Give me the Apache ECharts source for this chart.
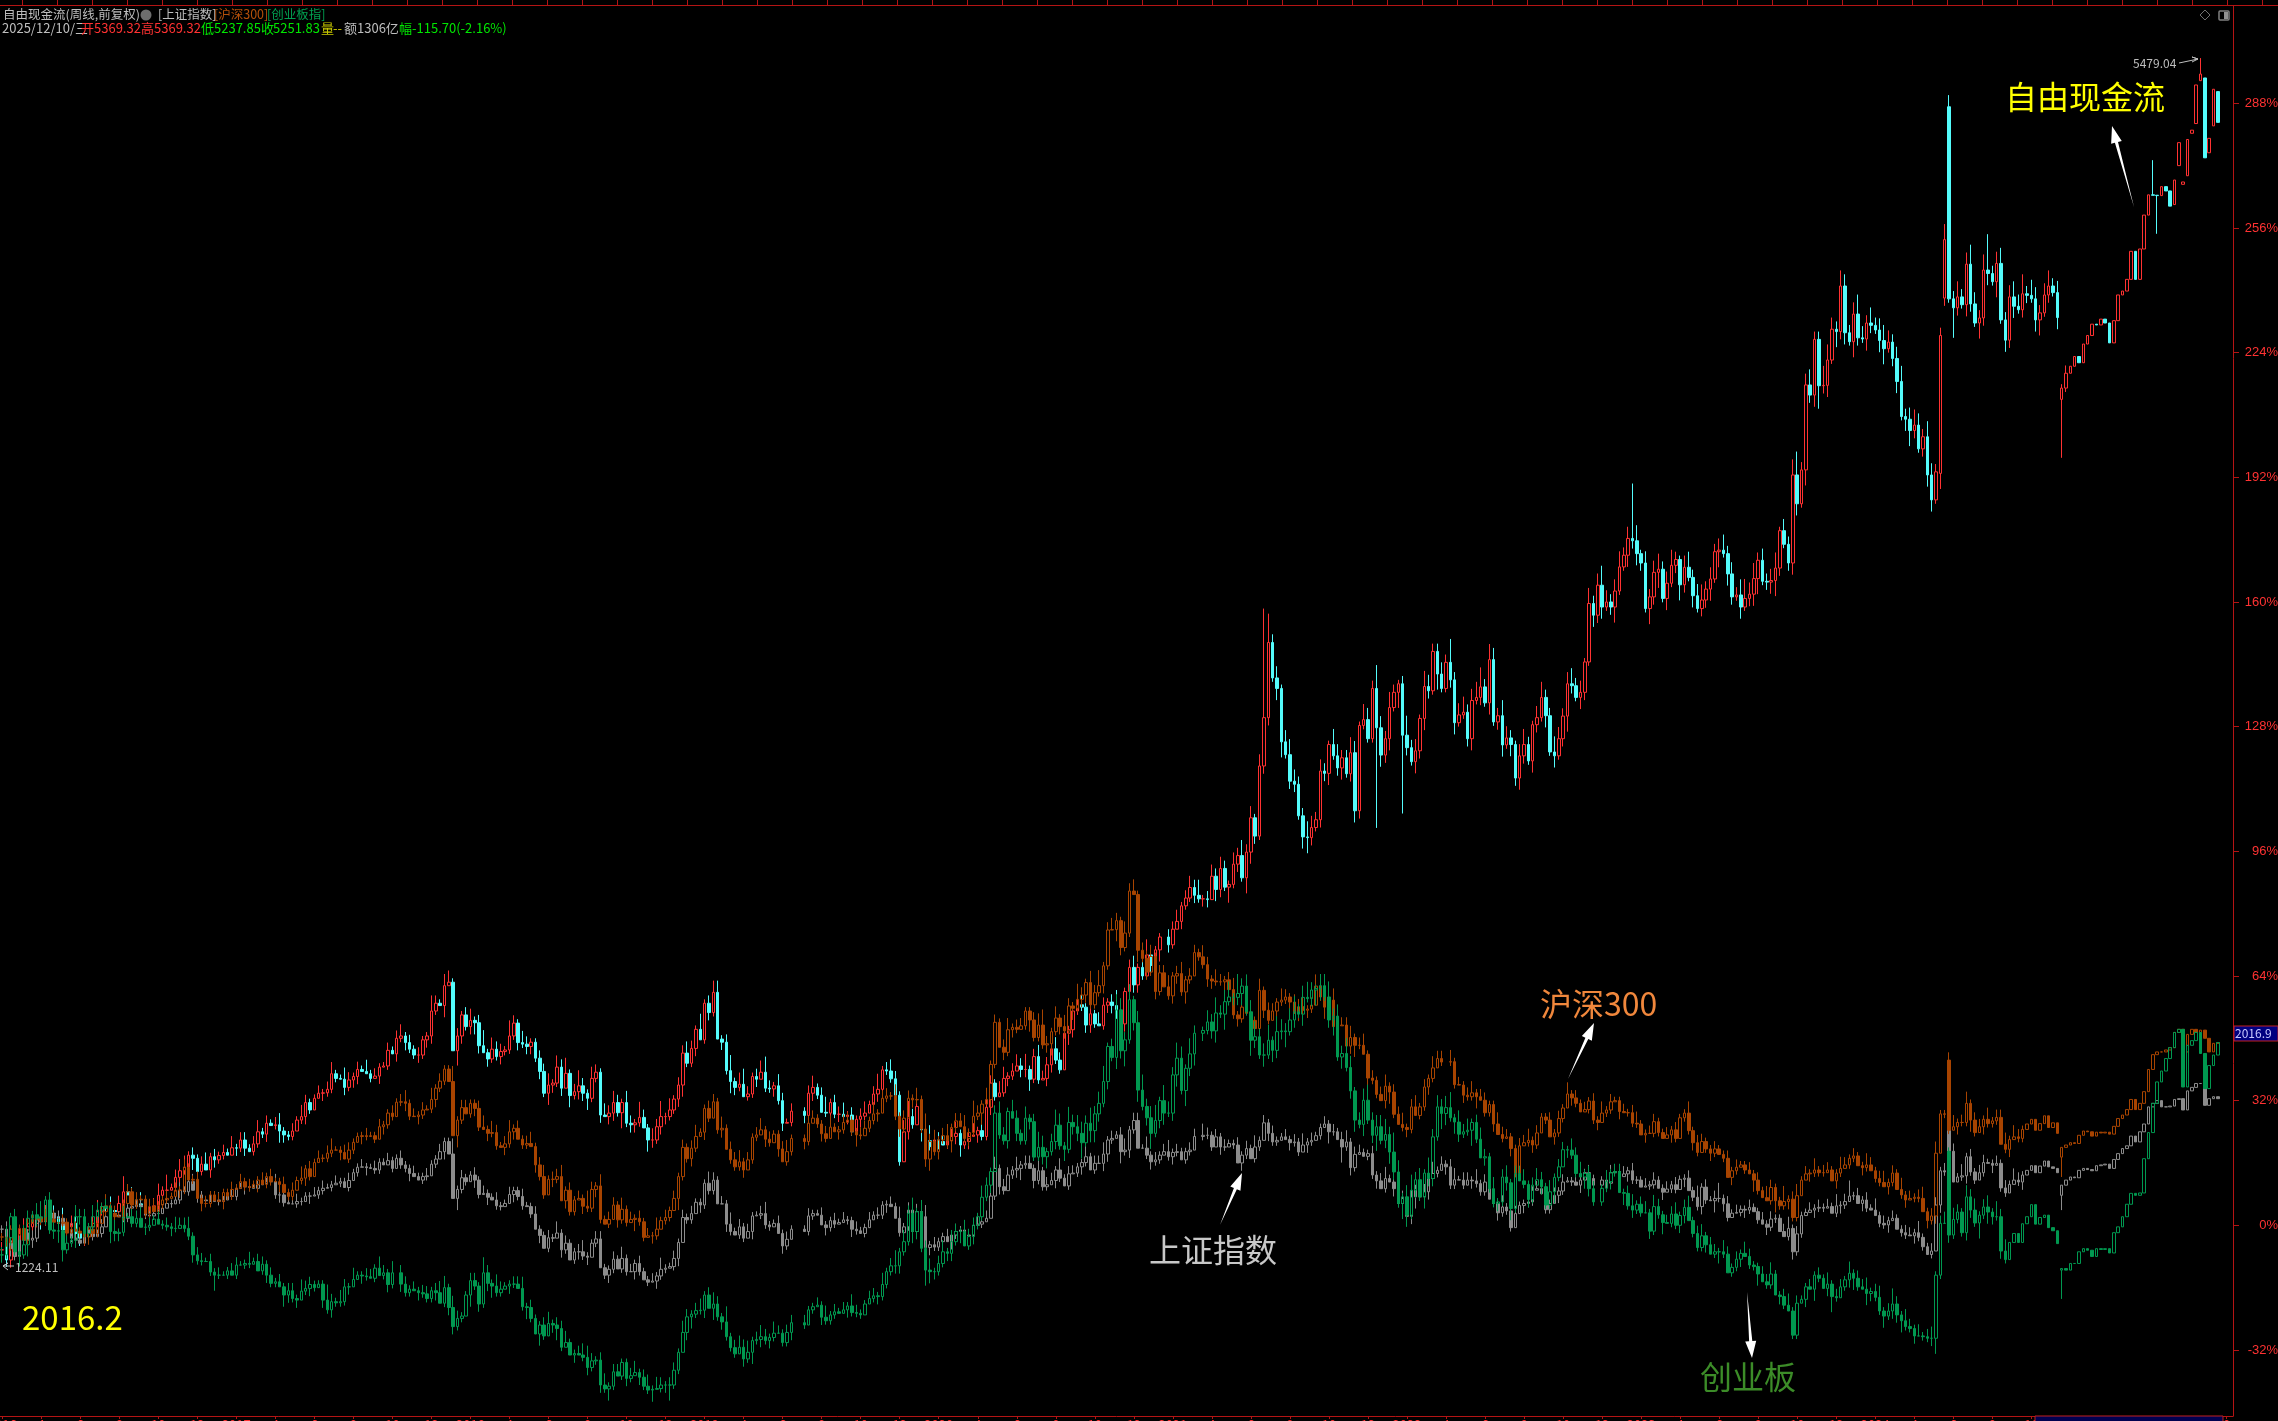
<!DOCTYPE html>
<html><head><meta charset="utf-8">
<style>html,body{margin:0;padding:0;background:#000}#c{width:2278px;height:1421px}</style>
<script src="https://cdn.jsdelivr.net/npm/echarts@6/dist/echarts.min.js"></script></head>
<body><div id="c"></div>
<script>
// percent change from the first week, weekly closes, in runs
const barCount=515;
const yTicks=[-32,0,32,64,96,128,160,192,224,256,288];
const monthLabels=['2016','4','6','8','10','12','2017','4','6','8','10','12','2018','4','6','8','10','12','2019','4','6','8','10','12','2020','4','6','8','10','12','2021','4','6','8','10','12','2022','4','6','8','10','12','2023','4','6','8','10','12','2024','4','6','8','10','12','2025','4','6','8','10'];

const fcfStarts=[0,92,185,269,274,369];
const fcfA=[-6.3,-8.9,-5.1,-4.6,-2.1,-1.2,-0.4,0.5,1.8,0.9,2.2,3.1,2.2,0.5,-1.2,-0.4,0.5,-2.1,-3.3,-2.9,-0.4,0.5,3.5,4.8,4.4,3.8,3.5,5.6,8.6,7.8,6.5,5.5,4.8,4.0,4.0,5.0,7.7,9.0,9.0,9.7,12.3,14.0,14.9,18.0,17.2,13.8,15.7,14.2,17.6,16.8,17.9,18.7,18.0,19.9,19.8,21.9,19.8,18.9,20.9,24.0,23.4,26.2,25.6,25.8,24.2,23.2,22.8,24.2,27.0,27.9,31.5,29.6,32.6,33.9,34.0,34.9,38.9,37.7,37.5,35.4,37.3,38.2,40.0,39.5,38.9,37.7,38.3,40.6,40.9,44.9,44.0,48.0];
const fcfB=[48.6,46.9,45.2,43.7,43.7,47.6,48.6,55.0,57.0,56.4,61.5,62.4,44.8,48.6,54.0,51.0,52.6,52.0,46.1,44.3,42.7,45.2,43.3,44.6,45.0,48.6,51.9,46.9,46.5,45.9,47.0,42.9,39.5,33.9,36.0,36.5,40.6,35.2,39.0,33.3,34.3,35.8,33.9,32.6,37.7,39.3,28.3,27.9,28.8,31.5,28.9,31.5,26.2,25.8,26.3,27.7,25.0,21.9,21.9,25.3,27.9,27.9,29.6,32.4,36.0,44.2,41.6,45.4,50.3,47.6,57.0,54.6,59.8,47.8,47.0,39.7,36.9,35.4,36.2,33.0,33.7,38.2,37.5,39.3,35.2,35.0,35.8,32.0,26.2,26.4,29.3];
const fcfC=[28.2,33.9,35.4,33.4,29.0,28.8,31.5,28.5,28.5,27.9,28.3,24.0,27.2,28.0,28.8,31.0,33.7,34.9,39.9,39.6,37.6,33.4,16.3,24.0,27.9,25.8,30.5,24.5,21.7,20.2,21.9,21.5,20.6,21.7,22.8,23.6,20.6,21.5,22.8,23.2,24.3,22.8,30.3,36.5,33.0,34.0,37.7,38.3,39.6,40.9,40.0,40.0,37.5,43.3,37.3,37.7,41.2,45.3,42.4,39.9,49.3,50.2,55.0,56.6,56.0,51.4,54.3,51.7,51.2,56.5,57.3,56.4,54.0,51.7,60.0,66.2,61.7,66.2,64.0,69.4,66.7,70.7,74.0];
const fcfC2=[72.0,76.0,78.0,82.0,84.0];
const fcfD=[86.7,84.7,83.8,83.8,83.6,89.6,86.2,91.6,86.8,87.5,92.7,94.9,89.2,95.8,104.6,99.9,117.9,130.3,149.6,140.5,137.8,124.1,120.8,114.0,113.2,105.1,99.7,99.5,102.1,104.1,116.6,116.0,123.4,120.5,117.4,120.0,115.9,121.3,106.4,128.3,129.8,124.9,137.8,127.7,120.7,124.9,132.9,136.8,139.0,125.8,122.6,119.0,121.8,130.1,138.3,137.2,147.3,141.5,137.8,144.5,140.0,129.0,131.0,131.7,124.9,134.7,135.5,138.2,134.1,145.2,129.2,130.8,123.3,125.1,123.4,114.8,120.5,123.4,119.2,128.5,130.3,135.5,130.8,121.5,120.5,124.9,130.7,139.0,138.5,135.5,136.8,144.6,159.6,156.6,164.3];
const fcfE=[158.7,160.0,158.7,162.8,169.0,172.0,176.3,175.7,172.4,170.0,158.3,161.3,167.6,168.4,160.9,164.8,169.4,170.9,164.4,168.9,166.3,161.6,158.3,160.5,163.3,165.9,172.9,173.3,172.4,167.2,161.3,161.8,158.7,160.9,162.0,166.0,170.7,165.3,165.1,165.5,168.7,178.3,174.8,170.0,192.6,185.2,193.9,215.7,213.1,227.4,215.5,215.6,222.1,230.0,229.4,241.1,229.1,226.8,233.9,227.8,227.5,231.6,231.0,229.8,227.1,225.0,226.7,222.5,216.6,207.6,206.9,204.0,205.4,199.3,202.4,192.6,186.2,193.4,228.4,253.0,237.8,235.5,238.3,236.3,246.7,236.5,231.6,232.9,245.2,244.3,242.2,246.9,232.4,227.2,238.3,235.9,235.0,239.1,238.7,237.8,232.4,234.2,238.8,241.1,239.4,233.0,214.9,218.7,220.5,223.0,221.4,226.2,228.4,231.3,231.1,232.6,231.6,226.5,232.2,238.8,239.8,242.8,250.0,242.8,250.6,259.3,264.5,264.4,264.3,266.6,265.5,261.6,268.3,277.9,267.8,278.7,281.1,292.7,295.5,274.0,279.0,291.6,283.1];
const fcfOpenAt={449:287.1,448:238,447:193,475:212,501:262,502:272,503:267.2,504:269.4,505:280.3,506:282.8,507:293.8,508:294.5,509:275.3,510:282.2,511:291};
const fcfHighAt={104:63.4,291:158.3,292:157,293:151.7,376:190.4,414:198.6,416:218.6,458:254.4,496:273.4,507:299.6};
const fcfLowAt={1:-10.7,105:41,317:102,323:105.7,419:209.6,450:227.8,475:197,497:254.5};
const fcfWick=[21,11,12,21,22,31,20,33,11,22,31,30,21,12,41,11,22,31,12,22,10,21,31,11,22,30,12,21,41,10,22,11,30,12,21,20,31,11,42,10,21,32,31,12,23,11,21,30,12,22,11,21,10,30,12,21,22,10,21,31,11,22,10,21,33,12,11,21,10,31,22,11,10,20,12,21,31,11,10,32,21,12,22,10,30,11,20,12,10,21,10,22,
31,12,21,11,22,11,12,42,21,10,33,30,60,22,12,21,32,13,22,40,12,31,21,22,11,41,21,12,31,22,12,11,22,21,33,12,31,22,40,13,21,42,22,13,31,21,12,30,22,32,21,14,31,22,12,41,20,13,32,21,42,12,31,11,22,23,31,21,12,40,11,22,31,30,12,21,43,12,31,40,21,11,22,30,41,21,12,31,22,10,21,23,31,12,
21,32,11,20,41,11,21,22,30,12,21,11,22,31,10,21,42,12,21,31,22,11,30,42,21,10,23,31,41,12,22,30,11,21,32,13,21,22,30,12,21,41,22,11,30,31,12,21,30,22,42,13,21,31,20,22,12,31,21,30,13,22,41,31,12,22,11,30,21,12,22,41,30,12,21,32,12,21,40,22,11,13,31,22,21,30,12,21,31,22,41,12,22,30,
23,32,21,14,31,22,41,24,33,12,31,22,42,21,33,14,31,42,32,21,23,44,32,21,32,22,13,41,32,23,21,42,33,12,41,31,21,62,33,22,43,21,14,23,52,21,33,12,43,32,21,24,31,21,62,23,31,41,22,33,41,52,21,43,31,22,43,31,23,12,33,42,21,13,32,41,23,21,43,31,22,34,42,21,33,12,41,23,32,53,31,22,34,41,
21,33,22,43,12,31,24,32,44,21,33,41,22,14,32,41,23,31,42,22,33,21,34,41,23,32,21,43,51,32,43,24,31,22,33,44,12,31,22,43,33,21,34,42,23,21,52,43,31,24,42,33,21,34,52,31,23,42,21,33,44,31,22,33,41,23,34,42,31,22,43,33,21,24,42,31,23,42,21,33,52,31,24,42,33,21,34,41,23,32,43,31,52,22,41,33,24,31,42,21,33,11,21];

const shStarts=[0,92,185,277,369,449];
const shA=[-1.0,-4.0,-6.0,-8.0,-3.8,-2.0,-3.8,-3.3,1.4,1.0,2.2,3.0,1.8,1.8,0,-1.6,-3.3,-3.8,-4.6,-1.2,-2.1,-2.9,-2.1,-0.4,2.2,3.0,2.6,2.2,1.8,4.4,4.8,5.2,4.8,2.6,2.4,3.0,3.0,4.4,5.6,5.5,6.5,9.0,8.6,11.2,9.0,7.8,6.5,6.3,6.1,6.5,6.1,6.5,7.5,7.4,9.5,9.9,9.9,9.7,9.5,10.4,10.8,11.2,11.2,7.8,7.8,5.8,5.5,5.5,6.1,6.1,7.5,7.5,7.8,8.9,9.5,9.7,10.4,10.8,11.2,9.7,11.5,13.5,14.9,15.0,14.8,14.6,14.2,16.2,15.5,16.6,14.6,17.2];
const shB=[15.5,14.6,13.3,12.5,11.6,12.5,12.7,15.7,17.0,18.9,21.5,18.3,6.9,9.2,12.2,11.2,12.9,11.6,7.9,8.2,7.2,6.5,5.0,4.8,5.6,7.9,8.9,7.4,5.0,4.8,2.9,-1.0,-2.6,-5.9,-3.2,-3.3,-2.0,-6.3,-4.6,-8.9,-6.8,-6.8,-7.9,-8.2,-4.6,-3.5,-10.9,-12.8,-11.3,-8.7,-11.2,-8.5,-11.9,-11.9,-9.8,-11.9,-14.0,-14.6,-14.3,-13.0,-11.3,-11.0,-10.6,-8.5,-4.4,2.0,1.4,3.0,5.9,5.2,10.8,8.9,11.6,5.5,5.5,0.3,-1.6,-2.5,-0.4,-3.3,-1.6,2.4,2.6,3.0,0.1,-0.4,0.5,-2.1,-5.3,-3.6,-1.0];
const shC=[-1.6,2.4,3.0,2.6,0.1,-0.6,1.2,0.3,0.7,1.4,1.2,-1.0,-1.4,-2.1,-0.6,1.4,2.6,2.6,5.2,5.4,4.8,1.8,-1.9,-0.4,3.9,-1.6,3.5,2.2,-5.7,-5.0,-5.6,-4.2,-2.9,-4.2,-2.5,-1.6,-1.2,-2.7,-2.5,0,0.3,0.9,1.8,7.5,14.6,9.9,8.9,12.9,14.2,14.6,15.5,15.9,14.6,11.5,14.0,9.9,10.4,11.5,14.2,12.1,10.1,13.2,13.4,15.0,16.1,17.6,14.2,15.9,15.9,18.3,21.9,22.3,23.2,18.9,19.3,24.5,26.9,19.8,19.8,18.0,16.3,16.8,18.0,18.9,17.6,18.7,18.9,16.8,18.9,19.3,22.8];
const shD=[23.1,23.1,20.1,22.7,20.1,20.1,21.0,20.6,16.0,18.0,19.7,17.1,20.1,21.8,26.3,23.6,21.4,21.8,22.7,22.0,21.2,21.4,18.8,20.6,21.4,21.8,23.0,25.1,26.0,24.0,24.0,22.0,20.1,21.4,14.8,18.2,18.7,17.7,18.4,12.9,11.4,9.4,12.0,11.1,9.4,5.6,6.9,2.3,7.3,9.4,7.3,8.6,12.0,13.3,14.1,15.7,15.0,10.3,11.7,11.6,10.3,11.6,11.4,10.7,8.6,11.1,6.7,5.6,3.2,4.7,3.7,-0.6,3.0,5.1,5.6,6.0,9.0,9.4,8.1,4.0,5.6,7.7,8.8,11.1,11.4,11.1,10.3,11.6,13.5,12.0,10.3];
const shE=[11.6,10.8,13.5,13.8,12.5,13.2,14.0,11.6,11.6,9.8,10.1,10.4,11.6,9.5,8.5,9.3,10.4,9.2,11.8,12.1,8.9,7.2,4.8,9.8,6.5,6.3,6.9,6.9,5.5,2.0,3.1,3.3,4.1,3.9,4.6,3.5,1.4,0.3,-0.5,1.6,1.8,-1.6,-2.9,-0.8,-6.8,-2.2,2.5,3.3,3.9,4.4,4.6,4.4,4.8,3.1,5.0,5.2,6.1,7.5,7.6,5.6,6.5,4.4,3.9,2.5,0.5,0.1,1.2,1.8,-1.0,-1.9,-2.5,-2.7,-1.9,-3.1,-5.5,-7.5,-6.6,5.2,14.0,13.7];
const shF=[19.0,11.1,12.4,12.7,17.6,13.7,11.6,13.5,16.1,15.9,15.4,15.9,9.6,8.3,10.5,11.6,11.1,12.9,14.1,15.3,13.5,15.2,16.5,15.0,14.6,13.5,10.3,11.6,12.4,12.2,14.1,14.6,14.3,14.0,15.3,15.5,15.7,14.6,16.9,18.4,19.7,20.4,22.9,21.4,24.0,26.0,30.4,31.3,32.0,30.4,30.4,30.6,32.3,32.5,29.6,34.5,35.4,36.4,36.4,30.8,32.5,33.0,32.5];
const shOpenAt={449:24.4,475:7.7};
const shLowAt={475:3.9};
const shWick=[11,20,12,11,10,21,10,22,11,10,21,10,11,20,11,10,21,11,10,20,12,11,10,21,10,11,20,10,21,11,10,20,12,11,10,21,11,10,20,11,10,21,10,11,20,12,10,11,20,10,21,11,10,20,11,10,12,21,10,11,20,11,10,21,12,11,10,20,21,11,10,12,20,11,21,10,11,20,11,10,21,10,11,20,12,10,21,11,10,20,11,10,
21,11,12,20,10,11,21,10,11,20,12,10,40,13,21,11,10,22,11,20,12,10,21,11,10,20,12,11,21,10,11,20,12,10,21,11,30,12,21,10,11,22,31,12,10,21,20,11,12,21,10,31,11,20,12,21,10,11,20,12,31,11,10,21,12,20,11,21,10,12,11,31,21,10,20,12,31,10,21,11,20,12,10,21,31,11,10,20,12,21,10,11,
20,10,21,11,10,20,12,11,21,10,20,11,12,21,10,11,20,10,21,11,12,20,10,31,12,21,10,20,11,30,12,21,11,10,20,12,21,11,20,10,12,21,11,20,10,31,12,21,20,11,32,13,21,20,12,31,11,21,20,12,31,10,21,20,11,12,31,10,21,20,32,12,21,10,23,31,12,21,20,10,31,12,21,11,20,31,12,21,10,11,21,20,12,31,
21,11,20,12,21,10,11,20,12,21,10,31,11,20,12,21,11,10,20,12,21,11,30,12,21,10,11,20,13,21,10,24,31,12,21,20,10,11,21,12,20,31,10,12,21,20,11,32,13,21,20,12,31,11,20,12,21,31,10,21,20,12,31,11,21,10,20,12,31,11,21,20,10,12,21,11,20,10,21,11,20,12,21,10,11,20,12,11,21,10,20,11,12,21,
10,11,20,12,21,11,10,20,11,21,10,12,20,11,21,10,12,20,11,31,12,21,10,23,41,12,21,10,20,11,12,21,10,11,20,12,21,11,10,20,31,12,21,11,10,20,12,21,11,20,10,31,12,21,40,11,20,12,21,10,30,11,21,12,20,10,11,21,20,12,31,11,10,21,20,12,21,11,20,10,31,12,21,11,20,21,10,12,20,11,21,10,30,21,12];

const hsStarts=[0,92,185,254,334,369,449];
const hsA=[-3.0,-4.5,-1.0,-2.5,-0.8,-3.8,0.5,1.5,2.0,1.0,2.2,1.5,0.8,0.5,0.8,-2.0,-1.0,-1.5,-2.0,-3.0,-1.0,-2.1,0.5,3.5,5.0,3.0,2.2,2.2,5.6,8.6,5.2,6.5,6.7,3.0,4.8,3.5,5.2,6.5,6.9,7.4,9.0,9.0,14.9,11.6,11.8,6.9,5.6,5.6,7.8,6.3,6.1,8.4,7.5,9.2,9.5,11.2,9.9,9.7,10.5,11.6,10.5,12.5,11.2,11.2,10.5,8.4,7.4,9.0,11.5,12.1,14.5,12.5,16.1,17.2,17.2,18.5,19.3,19.3,18.7,17.0,19.3,21.3,22.8,23.0,22.8,23.0,22.1,25.3,25.8,28.8,27.9,31.6];
const hsB=[31.7,31.3,28.0,27.9,28.3,29.6,29.8,32.3,35.2,37.0,40.1,36.9,23.0,27.0,30.2,28.6,31.3,30.0,25.2,24.6,23.6,23.8,20.4,20.0,20.9,24.0,24.9,22.1,20.6,21.0,20.2,15.5,12.5,7.8,11.8,11.8,12.5,6.3,9.0,3.5,6.5,6.9,4.9,4.4,9.2,10.1,1.5,0.3,1.5,5.2,1.4,4.1,0.7,1.5,1.8,0.9,-3.1,-2.7,-2.7,-1.0,1.2,2.0,3.8,6.9,12.5,20.0,17.1,19.8,22.8,23.9,30.0,27.5,31.7,24.5,24.9,19.5,16.8,15.0,16.3,14.2,16.8,22.6,23.2,24.5,22.1,21.2,23.4,19.6,16.3,18.9,22.3];
const hsC=[21.5,26.2,27.5,26.0,23.5,22.3,25.2,24.0,24.5,26.4,27.0,24.0,23.2,23.0,24.9,26.9,28.6,28.8,32.6,33.2,33.2,28.0,24.7,27.5,32.6,32.2,32.3,24.7,17.0,21.5,18.9,21.9,23.0,21.7,25.1,26.8,25.3,22.3,23.8,28.0,28.8,31.1,32.3,41.3,52.1,45.7,44.4,50.2,50.8,50.3,51.2,55.0,52.7,48.2,51.4,46.3,46.6,49.7,53.2,51.0,49.9,56.3,55.7,58.0,59.1,62.3,56.6,59.7,61.5];
const hsD=[66.6,75.8,75.9,78.2,71.3,75.0,85.8,84.9,70.6,68.5,65.0,69.0,60.0,64.8,61.2,58.9,64.0,64.6,59.9,63.0,64.0,70.0,68.9,66.9,63.2,62.7,62.5,62.5,63.0,60.5,54.0,53.0,56.0,54.4,52.6,50.5,60.3,55.2,52.6,55.0,57.3,57.8,58.6,57.3,54.4,56.1,55.2,55.5,56.5,61.4,58.6,56.0,57.8,51.0,51.2,51.4,46.0,48.2,46.2,46.2,43.9,37.8,37.2,33.6,32.0,35.7,34.2,28.5,25.9,25.1,24.6,30.4,28.2,30.4,35.5,37.7,40.4,42.8,41.9];
const hsE=[42.0,36.1,36.0,33.4,33.0,34.0,33.0,32.1,28.9,31.0,26.0,23.3,22.3,22.7,19.7,13.3,20.4,21.2,21.8,20.6,23.7,27.8,27.0,22.7,23.7,27.4,30.1,33.7,32.7,31.3,29.1,29.7,31.9,27.0,26.4];
const hsF=[28.8,29.6,31.7,32.0,29.2,28.9,28.9,26.2,26.0,23.2,23.6,23.6,26.6,23.8,22.3,23.2,24.5,22.3,27.6,28.8,24.3,21.2,18.7,21.5,19.6,18.5,19.6,18.2,17.2,12.3,14.0,14.9,15.5,14.2,13.2,11.6,8.9,7.1,6.3,9.7,6.3,5.0,6.1,6.7,2.0,7.6,11.6,13.2,13.4,14.2,13.5,13.5,14.2,11.4,13.4,14.6,15.5,17.2,17.8,15.3,14.8,15.5,14.0,12.0,11.0,9.9,11.0,13.4,9.2,7.8,6.5,6.9,7.2,6.9,3.5,1.2,2.4,18.5,28.6,28.5];
const hsG=[24.4,25.3,26.4,26.4,31.3,27.0,23.8,25.3,27.2,26.1,26.8,27.7,20.8,19.5,22.0,22.7,22.3,24.6,26.0,27.2,24.4,26.1,28.1,25.1,26.3,23.6,20.0,20.6,21.2,21.0,23.1,24.2,24.0,22.9,23.9,23.7,23.9,23.4,25.4,27.4,28.3,29.7,32.3,29.7,31.3,34.3,40.0,43.8,44.5,44.5,45.0,45.6,49.5,50.3,44.5,49.0,50.3,49.5,50.1,48.0,44.5,46.7,46.9];
const hsOpenAt={449:42.4,475:17.5};
const hsLowAt={475:12.4};
const hsWick=[11,21,12,22,10,11,21,20,12,11,21,10,20,11,21,12,10,20,11,22,12,21,11,20,31,12,21,10,11,20,12,21,10,11,22,20,12,11,21,10,20,12,21,10,11,20,12,21,11,10,20,12,11,21,10,20,11,21,10,12,20,11,21,10,12,20,11,21,10,31,12,21,10,20,11,21,31,10,12,20,21,11,10,12,21,10,11,20,12,11,21,10,
21,32,11,20,12,21,10,31,12,21,11,10,40,13,21,20,11,12,21,30,12,31,21,10,22,31,12,20,11,21,30,12,21,31,10,22,21,30,12,21,11,20,12,41,21,12,31,10,21,20,12,31,11,20,13,21,11,20,12,31,10,21,11,20,13,21,11,22,31,10,12,21,20,11,32,10,21,21,31,12,20,11,21,30,12,21,10,12,20,31,11,22,
31,12,21,20,11,12,21,30,10,12,21,20,11,13,21,20,11,31,12,20,21,11,31,12,21,20,12,31,11,42,23,31,12,21,32,13,21,20,31,12,41,21,13,30,12,21,10,22,31,12,21,20,11,13,21,31,41,22,13,31,12,32,21,13,41,22,12,31,21,41,12,21,30,23,12,31,21,30,13,21,22,31,12,21,20,31,12,22,31,13,21,20,11,31,
22,12,31,21,13,20,31,12,21,30,22,11,31,12,21,20,13,31,21,12,20,22,31,12,21,30,11,23,21,31,12,20,21,32,13,21,30,12,21,11,20,32,13,21,20,31,12,21,30,11,21,12,31,20,21,12,31,11,20,12,21,31,13,20,21,11,12,30,21,20,12,11,21,20,31,12,21,10,11,20,12,21,11,30,12,21,10,20,11,21,12,30,11,21,
10,12,20,11,21,31,10,12,20,21,11,10,20,12,21,10,11,31,12,21,20,11,12,21,10,11,20,12,21,10,11,20,13,21,10,30,21,13,11,41,12,21,31,10,20,12,31,11,21,20,10,12,31,20,11,21,10,12,31,20,11,21,30,12,21,10,31,12,20,11,21,30,12,21,32,10,11,21,30,12,21,31,13,21,20,12,31,11,21,20,31,12,30,21,11];

const cyStarts=[0,92,185,277,369,449];
const cyA=[-7.6,-3.2,2.2,-6.8,-7.6,-5.0,1.8,2.7,1.8,2.2,6.5,-1.2,-1.5,-1.4,-6.3,-4.6,-3.8,2.2,2.2,-2.1,-0.4,2.2,3.9,4.8,4.4,-1.6,-2.1,-1.8,2.0,2.2,0.5,1.8,-0.5,-0.5,0,1.6,0.3,0,-0.4,-0.8,-0.8,0,-0.8,-2.8,-7.6,-9.1,-9.3,-9.3,-12.0,-12.8,-12.8,-12.8,-11.7,-12.8,-10.2,-10.2,-9.8,-10.0,-9.3,-11.7,-10.0,-12.8,-14.9,-14.5,-15.8,-17.9,-16.8,-18.8,-19.2,-16.9,-16.2,-15.2,-16.0,-15.1,-19.2,-21.7,-19.6,-19.9,-19.6,-15.8,-15.8,-13.9,-12.8,-13.0,-13.2,-13.6,-11.0,-12.9,-12.2,-15.2,-12.2];
const cyB=[-15.1,-17.3,-16.4,-16.8,-17.3,-17.6,-18.8,-16.8,-17.3,-20.0,-16.0,-21.1,-26.0,-23.9,-23.3,-17.9,-14.2,-15.6,-20.2,-12.2,-14.9,-15.6,-17.3,-16.4,-15.6,-15.1,-15.1,-16.2,-20.9,-21.1,-23.9,-27.9,-25.6,-28.4,-25.2,-25.6,-26.5,-31.3,-30.1,-33.3,-32.9,-33.3,-33.9,-36.5,-34.8,-34.6,-41.0,-42.0,-41.3,-37.6,-38.7,-35.2,-39.3,-38.6,-37.8,-39.0,-41.3,-42.3,-42.1,-41.9,-41.0,-41.0,-41.0,-37.2,-32.6,-27.5,-23.5,-22.8,-21.9,-21.8,-17.9,-21.3,-20.2,-23.5,-24.8,-28.6,-31.4,-33.0,-31.3,-34.3,-32.6,-29.6,-29.3,-28.6,-29.6,-28.8,-27.7,-27.7,-30.1,-27.5,-25.0];
const cyC=[-25.6,-21.7,-20.9,-20.5,-23.6,-24.5,-23.0,-22.2,-22.6,-21.7,-20.7,-22.4,-22.6,-23.0,-20.2,-18.8,-18.1,-18.3,-15.2,-11.9,-10.4,-10.4,-6.8,-4.2,3.1,-1.6,3.5,-5.9,-11.5,-11.9,-11.9,-9.8,-6.8,-7.2,-4.2,-1.6,-1.6,-5.3,-2.9,0,2.2,7.2,10.3,13.8,28.8,23.2,21.7,29.2,27.5,23.6,21.7,27.5,26.6,17.5,20.0,17.6,18.9,21.5,25.7,20.4,19.5,26.4,25.3,23.6,21.2,26.2,24.3,28.6,31.3,36.9,45.9,43.1,55.3,44.8,47.6,57.9,52.0,34.7,30.5,27.6,23.6,26.9,32.0,28.8,28.8,38.6,42.9,34.6,40.3,44.0,49.3];
const cyD=[50.0,52.2,49.9,54.5,54.2,57.4,58.6,58.5,59.5,61.4,54.8,47.5,48.4,43.7,43.7,47.5,44.9,49.7,49.9,49.7,52.7,54.8,54.2,58.5,58.2,60.4,60.8,61.5,58.6,52.7,53.7,43.2,44.1,40.5,34.5,27.0,25.9,32.1,27.0,23.1,25.3,21.8,23.3,18.8,13.7,5.6,7.3,2.6,9.0,11.7,7.3,13.4,12.0,22.7,30.4,28.7,30.2,27.6,26.5,23.4,24.0,24.4,26.4,22.1,17.3,17.6,9.4,5.6,6.0,12.4,10.9,4.3,13.3,11.4,10.5,6.6,10.3,11.7,9.9,5.2,8.6,12.3,15.0,19.4,19.3,18.0,13.3,12.4,13.3,9.4,6.0];
const cyE=[9.5,11.2,13.5,13.8,8.4,8.2,5.0,3.9,5.4,3.2,3.2,-1.5,4.8,2.7,0.7,0.5,2.9,0,2.5,4.6,1.2,-2.1,-5.7,-2.7,-5.0,-7.4,-6.8,-6.8,-7.4,-12.2,-10.8,-8.7,-7.2,-8.0,-10.2,-10.6,-12.5,-14.5,-15.3,-12.5,-17.9,-18.3,-20.5,-22.0,-28.2,-20.0,-19.0,-15.8,-16.4,-12.8,-13.6,-16.2,-15.1,-18.3,-18.6,-15.8,-14.0,-12.3,-13.6,-15.8,-16.4,-17.5,-17.0,-18.5,-22.0,-23.3,-22.0,-20.2,-23.0,-24.5,-26.0,-26.5,-28.4,-28.4,-28.6,-29.0,-29.0,-12.8,0.5,0.5];
const cyF=[-2.5,1.5,3.4,-1.9,7.3,3.9,0.6,2.6,4.7,3.4,2.2,2.2,-6.6,-8.8,-4.4,-2.1,-4.4,0.4,2.2,5.3,0.3,2.0,2.6,-0.6,-1.4,-4.7,-11.1,-11.5,-9.8,-9.8,-6.8,-6.0,-6.4,-8.0,-6.0,-6.2,-6.0,-7.1,-1.9,-0.4,2.2,5.4,8.2,7.7,8.3,17.1,23.8,31.3,36.8,39.6,42.8,45.6,49.5,50.3,35.5,46.2,47.4,49.5,44.1,35.1,41.0,43.7,46.9];
const cyOpenAt={449:19.0,475:-11.5};
const cyLowAt={475:-18.9};
const cyWick=[22,31,12,21,43,51,23,11,32,41,12,21,22,33,13,21,11,32,22,21,11,31,21,11,20,13,32,12,31,10,21,21,30,12,21,10,20,11,21,12,31,20,21,31,12,21,21,10,21,14,21,10,11,20,21,10,11,31,10,20,21,12,21,11,20,13,22,21,12,30,21,22,11,10,12,41,22,11,31,21,12,30,10,12,21,20,11,30,21,12,31,
41,22,21,11,20,12,21,21,11,22,30,31,12,32,21,11,10,23,21,12,41,22,13,31,21,10,12,21,20,31,13,21,10,13,21,30,12,23,21,30,10,12,20,31,32,21,11,22,31,13,21,20,11,12,21,30,12,21,31,13,30,21,12,24,21,11,30,22,13,21,31,12,20,33,21,12,41,11,21,30,22,31,13,21,32,21,12,31,20,11,21,
22,31,12,21,10,11,20,12,31,11,21,10,20,12,31,21,11,10,20,21,12,31,11,21,42,12,31,21,43,12,31,24,33,12,21,31,12,32,21,13,30,21,22,11,31,21,12,20,31,21,12,30,22,11,31,12,21,41,32,13,21,42,31,13,41,22,32,34,21,43,23,32,41,12,21,43,32,24,41,12,33,41,22,34,41,12,43,31,22,43,31,14,42,23,
41,12,31,22,43,21,34,41,12,52,23,31,34,42,21,33,41,13,42,32,24,31,42,21,33,41,22,14,33,31,42,24,31,23,41,32,13,21,33,41,22,34,31,42,23,52,31,14,33,41,22,31,13,42,22,31,24,33,41,13,32,21,31,14,21,30,22,11,31,12,21,32,13,21,20,31,12,21,30,22,11,31,13,21,20,12,31,21,30,13,22,21,41,
11,31,12,21,20,13,21,32,11,21,30,12,31,21,13,20,21,31,12,22,30,11,21,31,12,20,21,13,31,20,11,21,12,30,21,11,13,20,21,31,10,12,21,30,11,21,10,12,20,13,21,10,32,14,21,20,11,32,13,21,20,33,12,21,31,13,21,42,22,13,31,21,12,30,11,21,32,14,21,30,12,31,21,11,32,22,31,14,21,33,12,41,22,31];

const fmt=(segs,starts,openAt,highAt,lowAt,wick)=>{
  const close=new Array(512).fill(null);
  segs.forEach((s,k)=>s.forEach((v,j)=>{const p=starts[k]+j; if(p<512) close[p]=v;}));
  let prev=close[0];
  return close.map((c,i)=>{
    if(c===null) return '-';
    const o=openAt&&openAt[i]!==undefined?openAt[i]:prev;
    prev=c;
    const w=wick[i]||0, up=Math.floor(w/10), dn=w%10;
    const h=highAt&&highAt[i]!==undefined?highAt[i]:Math.max(o,c)+up;
    const l=lowAt&&lowAt[i]!==undefined?lowAt[i]:Math.min(o,c)-dn;
    return [o,c,l,h];
  });
};
const fcfData=fmt([fcfA,fcfB,fcfC,fcfC2,fcfD,fcfE],fcfStarts,fcfOpenAt,fcfHighAt,fcfLowAt,fcfWick);
const shData=fmt([shA,shB,shC,shD,shE,shF],shStarts,shOpenAt,null,shLowAt,shWick);
const hsData=fmt([hsA,hsB,hsC,hsD,hsE,hsF,hsG],hsStarts,hsOpenAt,null,hsLowAt,hsWick);
const cyData=fmt([cyA,cyB,cyC,cyD,cyE,cyF],cyStarts,cyOpenAt,null,cyLowAt,cyWick);
const cats=Array.from({length:barCount},(_,i)=>String(i));

const CJK='"Noto Sans CJK SC"';
const txt=(t,x,y,fill,size,opt)=>({type:'text',silent:true,z:50,style:Object.assign({text:t,x:x,y:y,fill:fill,font:(size||12)+'px '+CJK,textAlign:'left',textVerticalAlign:'middle'},opt||{})});
const arrow=(x1,y1,x2,y2)=>{
  const dx=x2-x1,dy=y2-y1,L=Math.hypot(dx,dy),ux=dx/L,uy=dy/L,nx=-uy,ny=ux;
  const bx=x2-ux*17,by=y2-uy*17;
  return {type:'polygon',silent:true,z:50,shape:{points:[[x1,y1],[bx+nx*1.6,by+ny*1.6],[bx+nx*5.5,by+ny*5.5],[x2,y2],[bx-nx*5.5,by-ny*5.5],[bx-nx*1.6,by-ny*1.6]]},style:{fill:'#fff'}};
};
const RED='#FF3232',GRN='#00E600',GRY='#BEBEBE';
const gfx=[
  {type:'rect',silent:true,z:41,shape:{x:0,y:5,width:2278,height:1},style:{fill:'#B41414'}},
  txt('自由现金流(周线,前复权)',3,14.5,GRY,12.5),
  {type:'circle',silent:true,z:50,shape:{cx:146,cy:15,r:5.5},style:{fill:'#6E6E6E'}},
  txt('[上证指数]',158,14.5,GRY,12.5),
  txt('[沪深300]',214,14.5,'#B4500A',12.5),
  txt('[创业板指]',267,14.5,'#00A050',12.5),
  txt('2025/12/10/三',2,28.5,GRY,13),
  txt('开',81,28.5,RED,13),txt('5369.32',94,28.5,RED,13),
  txt('高',141,28.5,RED,13),txt('5369.32',154,28.5,RED,13),
  txt('低',201,28.5,GRN,13),txt('5237.85',214,28.5,GRN,13),
  txt('收',261,28.5,GRN,13),txt('5251.83',273,28.5,GRN,13),
  txt('量',321,28.5,'#C8C800',13),txt('--',333,28.5,'#C8C800',13),
  txt('额1306亿',344,28.5,GRY,13),
  txt('幅',399,28.5,GRN,13),txt('-115.70(-2.16%)',412,28.5,GRN,13),
  txt('自由现金流',2005,97,'#FFFF00',32),
  txt('2016.2',22,1317,'#FFFF00',33),
  txt('上证指数',1149,1250,'#C8C8C8',32),
  txt('沪深300',1540,1004,'#F0873C',32),
  txt('创业板',1700,1377,'#3C8C28',32),
  arrow(2134,207,2112,126),arrow(1220,1225,1242,1173),arrow(1568,1079,1594,1023),arrow(1747,1292,1752,1358),
  txt('5479.04',2133,63,GRY,12),
  {type:'polyline',silent:true,z:50,shape:{points:[[2179,63],[2198,59],[2192,57],[2198,59],[2192,62]]},style:{stroke:GRY,fill:'none',lineWidth:1}},
  txt('1224.11',15,1267,GRY,12),
  {type:'polyline',silent:true,z:50,shape:{points:[[14,1266],[3,1266],[8,1263],[3,1266],[8,1270]]},style:{stroke:GRY,fill:'none',lineWidth:1}},
  {type:'rect',silent:true,z:50,shape:{x:2234,y:1026,width:44,height:15},style:{fill:'#000080',stroke:'#C02020',lineWidth:1}},
  txt('2016.9',2235,1033.5,'#C8C8FF',12),
  {type:'polygon',silent:true,z:50,shape:{points:[[2205,10],[2210,15],[2205,20],[2200,15]]},style:{fill:'none',stroke:'#707070'}},
  {type:'rect',silent:true,z:50,shape:{x:2219,y:11,width:10,height:9,r:1},style:{fill:'none',stroke:'#808080',lineWidth:1.5}},
  {type:'rect',silent:true,z:50,shape:{x:2224,y:12,width:4,height:7},style:{fill:'#909090'}},
  {type:'rect',silent:true,z:50,shape:{x:2035,y:1416,width:188,height:6},style:{fill:'#000050',stroke:'#C02020'}},
  txt('2025/03/28/五 12 天合涨幅12.46%',2037,1427,RED,13),
  txt('回线',2247,1427,GRY,13)
];
for(let x=22;x<2278;x+=35){gfx.push({type:'rect',silent:true,z:41,shape:{x:x,y:0,width:1,height:5},style:{fill:'#B41414'}});}
const cs=(name,data,up,down)=>({type:'candlestick',name:name,data:data,barWidth:3,clip:true,animation:false,silent:true,
  itemStyle:{color:'transparent',color0:down,borderColor:up,borderColor0:down,borderWidth:1}});
const chart=echarts.init(document.getElementById('c'),null,{renderer:'canvas'});
chart.setOption({
  backgroundColor:'#000',animation:false,
  grid:{left:0,right:45,top:6,bottom:5,containLabel:false,outerBoundsMode:'none'},
  xAxis:{type:'category',data:cats,boundaryGap:true,
    axisLine:{onZero:false,lineStyle:{color:'#B41414',width:1}},
    axisTick:{show:true,alignWithLabel:true,length:3,interval:(i)=>i%9===0,lineStyle:{color:'#B41414'}},
    axisLabel:{show:true,interval:(i)=>i%9===0,margin:3,color:RED,fontSize:13,fontFamily:'Noto Sans CJK SC',
      hideOverlap:false,formatter:(v)=>monthLabels[Math.round(+v/9)]||''},
    splitLine:{show:false}},
  yAxis:{type:'value',position:'right',min:-48.95,max:312.97,scale:false,
    axisLine:{show:true,lineStyle:{color:'#B41414',width:1}},
    axisTick:{show:true,length:6,customValues:yTicks,lineStyle:{color:'#B41414'}},
    axisLabel:{show:true,customValues:yTicks,margin:45,align:'right',color:RED,fontSize:13,fontFamily:'Liberation Sans',formatter:'{value}%'},
    splitLine:{show:false}},
  series:[
    cs('自由现金流',fcfData,'#FF3232','#54FCFC'),
    cs('上证指数',shData,'#8C8C8C','#8C8C8C'),
    cs('沪深300',hsData,'#A84400','#A84400'),
    cs('创业板指',cyData,'#009850','#009850')
  ],
  graphic:gfx
});
</script></body></html>
